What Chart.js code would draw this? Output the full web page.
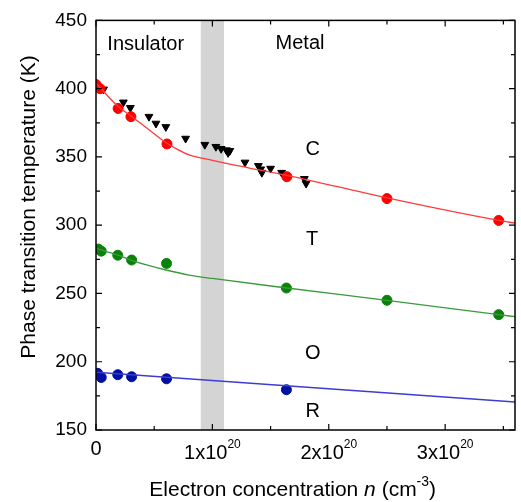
<!DOCTYPE html>
<html><head><meta charset="utf-8">
<script src="https://cdn.jsdelivr.net/npm/chart.js@4/dist/chart.umd.min.js"></script>
<style>html,body{margin:0;padding:0;background:#fff}</style>
</head><body>
<canvas id="c" width="521" height="502"></canvas>
<script>
// ---- data (x in units of 1e20 cm^-3, y in K) ----
const cX = [0.0, 0.035, 0.19, 0.30, 0.61, 1.64, 2.50, 3.46];
const cT = [403, 400, 385.5, 379.5, 359.5, 335.5, 319.5, 303.5];
const triX = [0.065, 0.235, 0.295, 0.455, 0.515, 0.60, 0.77, 0.935, 1.03, 1.075, 1.12, 1.15, 1.135, 1.28, 1.395, 1.415, 1.425, 1.50, 1.595, 1.79, 1.805];
const triT = [399.5, 390, 386, 379.5, 374.5, 372, 363.5, 359, 357.5, 356, 355, 354.5, 353, 346, 343.5, 341, 338.5, 341.5, 338.5, 334, 330.5];
const tX = [0.02, 0.045, 0.187, 0.306, 0.606, 1.636, 2.50, 3.46];
const tT = [282.5, 281, 278, 274.5, 272, 254, 245, 234.5];
const oX = [0.014, 0.045, 0.187, 0.306, 0.606, 1.636];
const oT = [191.5, 188.5, 190.5, 189, 187.5, 179.5];
// fitted guide lines
const cFitX = [0, 0.19, 0.30, 0.45, 0.61, 0.70, 0.80, 1.0, 1.3, 1.64, 2.5, 3.46, 3.6];
const cFitT = [404, 387, 380, 370.3, 360, 355.5, 351.5, 347.5, 342.2, 336.5, 320, 303.5, 301.5];
const tFitX = [0, 0.19, 0.30, 0.45, 0.61, 0.80, 1.0, 1.64, 2.5, 3.46, 3.6];
const tFitT = [283, 278, 274.5, 270.5, 267, 263.5, 261, 254, 245, 234.5, 233];
const oFitX = [0, 3.6];
const oFitT = [192.3, 170.5];
// axes
const xRange = [0, 3.6];
const yRange = [150, 450];
const xTickValues = [0, 1, 2, 3];
const xTickLabels = ['0', '1x10^20', '2x10^20', '3x10^20'];
const xMinorTicks = [0.5, 1.5, 2.5, 3.5];
const yTickValues = [150, 200, 250, 300, 350, 400, 450];
const yMinorTicks = [175, 225, 275, 325, 375, 425];
const bandRange = [0.9, 1.1];
const yTitle = 'Phase transition temperature (K)';
const xTitleParts = [['Electron concentration ', 'n'], ['n', 'i'], [' (cm', 'n'], ['-3', 's'], [')', 'n']];
const annotations = [
  {text: 'Insulator', x: 0.427, y: 428.5},
  {text: 'Metal', x: 1.753, y: 429},
  {text: 'C', x: 1.863, y: 351.7},
  {text: 'T', x: 1.857, y: 285.3},
  {text: 'O', x: 1.863, y: 202},
  {text: 'R', x: 1.863, y: 159.6}
];

const FONT = 'Arial, "Liberation Sans", sans-serif';
const pts = (xs, ys) => xs.map((x, i) => ({x: x, y: ys[i]}));

const bandPlugin = {
  id: 'band',
  beforeDatasetsDraw(chart) {
    const {ctx, chartArea: a, scales: {x}} = chart;
    const x0 = x.getPixelForValue(bandRange[0]), x1 = x.getPixelForValue(bandRange[1]);
    ctx.save();
    ctx.fillStyle = '#d4d4d4';
    ctx.fillRect(x0, a.top, x1 - x0, a.bottom - a.top);
    ctx.restore();
  }
};

const framePlugin = {
  id: 'frame',
  afterDraw(chart) {
    const {ctx, chartArea: a, scales: {x, y}} = chart;
    ctx.save();
    ctx.strokeStyle = '#000';
    ctx.lineWidth = 1.5;
    ctx.strokeRect(a.left, a.top, a.right - a.left, a.bottom - a.top);
    ctx.lineWidth = 1.2;
    ctx.beginPath();
    const xt = (v, len) => { const p = x.getPixelForValue(v);
      ctx.moveTo(p, a.bottom); ctx.lineTo(p, a.bottom - len);
      ctx.moveTo(p, a.top); ctx.lineTo(p, a.top + len); };
    const yt = (v, len) => { const p = y.getPixelForValue(v);
      ctx.moveTo(a.left, p); ctx.lineTo(a.left + len, p);
      ctx.moveTo(a.right, p); ctx.lineTo(a.right - len, p); };
    xTickValues.forEach(v => xt(v, 6));
    xMinorTicks.forEach(v => xt(v, 4));
    yTickValues.forEach(v => yt(v, 6));
    yMinorTicks.forEach(v => yt(v, 4));
    ctx.stroke();

    // x tick labels with superscripts
    ctx.fillStyle = '#000';
    ctx.textBaseline = 'alphabetic';
    ctx.textAlign = 'left';
    xTickValues.forEach((v, i) => {
      const p = x.getPixelForValue(v);
      const [base, exp] = xTickLabels[i].split('^');
      ctx.font = '20px ' + FONT;
      const wb = ctx.measureText(base).width;
      let we = 0;
      if (exp) { ctx.font = '12px ' + FONT; we = ctx.measureText(exp).width; }
      const start = p - (wb + we) / 2;
      ctx.font = '20px ' + FONT;
      ctx.fillText(base, start, a.bottom + (exp ? 29 : 25));
      if (exp) { ctx.font = '12px ' + FONT; ctx.fillText(exp, start + wb, a.bottom + 18); }
    });

    // annotations
    ctx.font = '20px ' + FONT;
    ctx.textAlign = 'center';
    annotations.forEach(t => ctx.fillText(t.text, x.getPixelForValue(t.x), y.getPixelForValue(t.y)));

    // y title
    ctx.save();
    ctx.font = '21px ' + FONT;
    ctx.translate(35, 207);
    ctx.rotate(-Math.PI / 2);
    ctx.textAlign = 'center';
    ctx.fillText(yTitle, 0, 0);
    ctx.restore();

    // x title with italic n and superscript
    const fontOf = k => k === 'i' ? 'italic 21px ' + FONT : (k === 's' ? '14px ' + FONT : '21px ' + FONT);
    let total = 0;
    xTitleParts.forEach(([s, k]) => { ctx.font = fontOf(k); total += ctx.measureText(s).width; });
    let cx = 292.7 - total / 2;
    ctx.textAlign = 'left';
    xTitleParts.forEach(([s, k]) => {
      ctx.font = fontOf(k);
      ctx.fillText(s, cx, k === 's' ? 486 : 496);
      cx += ctx.measureText(s).width;
    });
    ctx.restore();
  }
};

const lineDs = (xs, ys, color) => ({
  data: pts(xs, ys), showLine: true, borderColor: color, borderWidth: 1.3,
  pointRadius: 0, cubicInterpolationMode: 'monotone', fill: false, clip: 0
});
const dotDs = (xs, ys, color) => ({
  data: pts(xs, ys), showLine: false, pointRadius: 5, pointBackgroundColor: color,
  pointBorderColor: color, pointBorderWidth: 1, clip: 0
});

new Chart(document.getElementById('c'), {
  type: 'scatter',
  data: {
    datasets: [
      lineDs(cFitX, cFitT, '#ff3b3b'),
      lineDs(tFitX, tFitT, '#3a9a3a'),
      lineDs(oFitX, oFitT, '#3c3cd2'),
      dotDs(cX, cT, '#ff0000'),
      dotDs(tX, tT, '#0a820a'),
      dotDs(oX, oT, '#0010a0'),
      { data: pts(triX, triT), showLine: false, pointStyle: 'triangle', pointRotation: 180,
        pointRadius: 4.5, pointBackgroundColor: '#000', pointBorderColor: '#000', pointBorderWidth: 1, clip: 0 }
    ]
  },
  options: {
    responsive: false,
    animation: false,
    events: [],
    layout: {padding: {left: 0, right: 3, top: 16, bottom: 0}},
    plugins: {legend: {display: false}, tooltip: {enabled: false}},
    scales: {
      x: {
        type: 'linear', min: xRange[0], max: xRange[1],
        afterBuildTicks: s => { s.ticks = xTickValues.map(v => ({value: v})); },
        afterFit: s => { s.height = 72; },
        grid: {display: false, drawTicks: false},
        border: {display: false},
        ticks: {display: false}
      },
      y: {
        type: 'linear', min: yRange[0], max: yRange[1],
        afterBuildTicks: s => { s.ticks = yTickValues.map(v => ({value: v})); },
        afterFit: s => { s.width = 96; },
        grid: {display: false, drawTicks: false},
        border: {display: false},
        ticks: {color: '#000', padding: 9, font: {family: FONT, size: 19}}
      }
    }
  },
  plugins: [bandPlugin, framePlugin]
});
</script>
</body></html>
